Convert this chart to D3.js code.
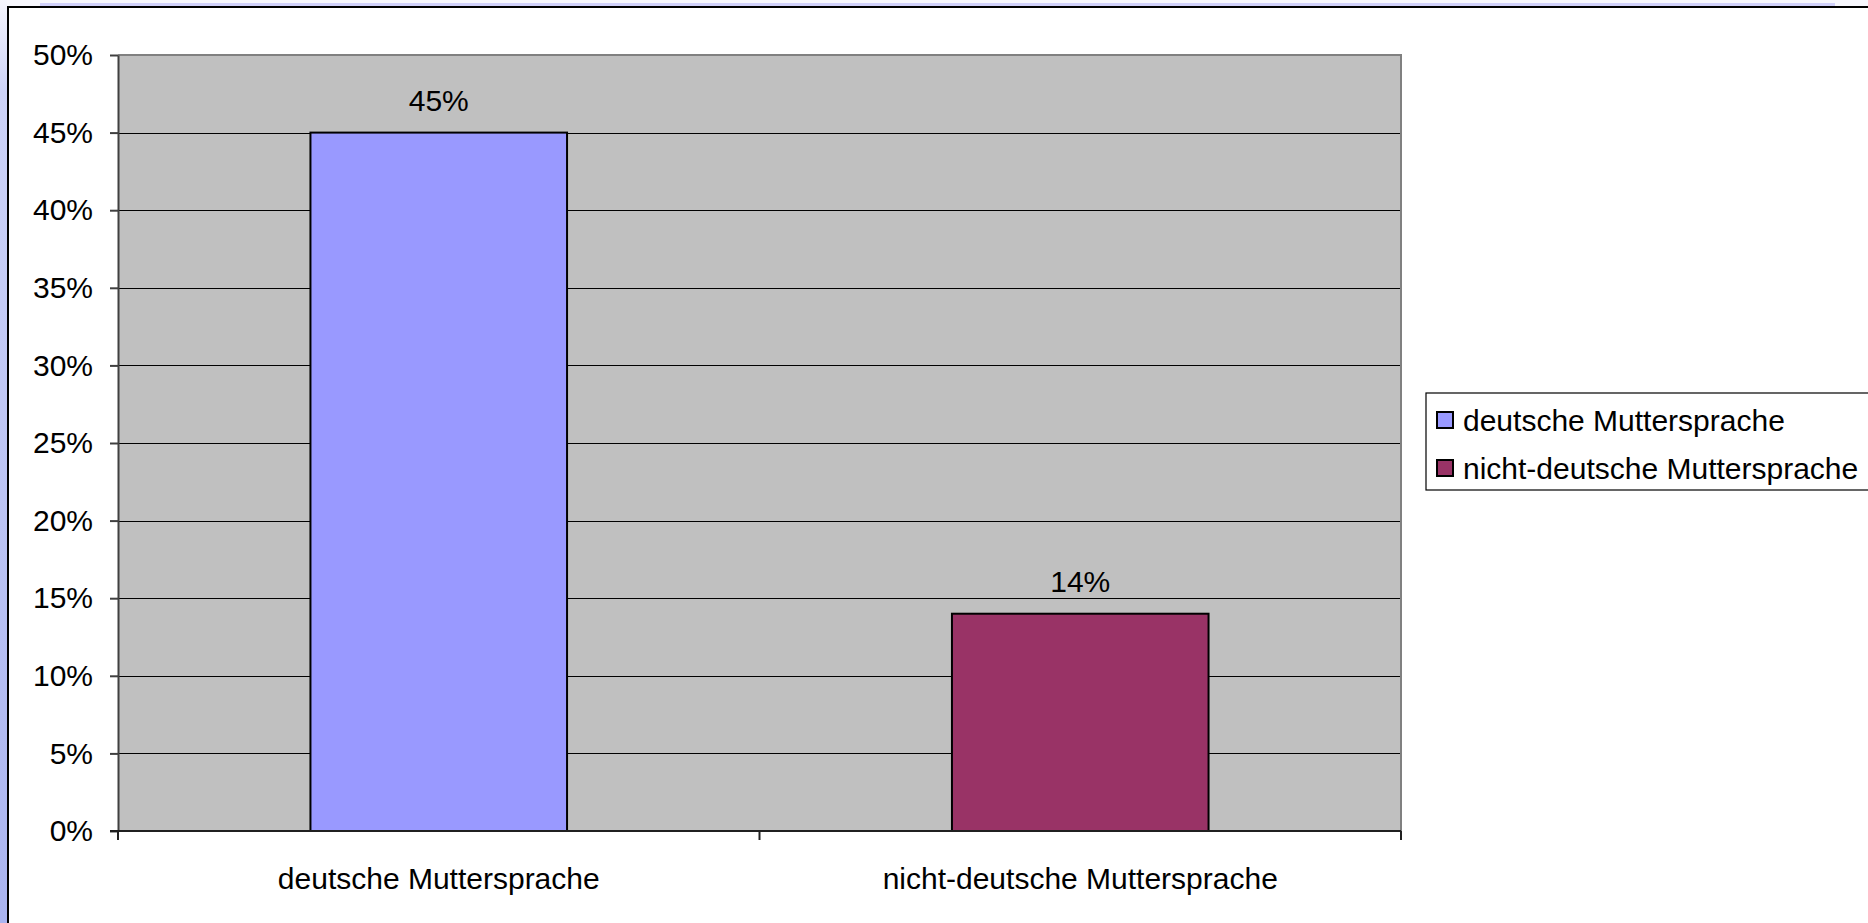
<!DOCTYPE html>
<html><head><meta charset="utf-8">
<script src="https://cdn.jsdelivr.net/npm/d3@7"></script>
<style>
html,body{margin:0;padding:0;background:#f7f7fd;overflow:hidden;}
svg{display:block;font-family:"Liberation Sans",Arial,sans-serif;}
</style></head>
<body>
<svg id="chart" width="1868" height="923"></svg>
<script>
const categories = ["deutsche Muttersprache", "nicht-deutsche Muttersprache"];
const values = [0.45, 0.14];
const valueLabels = ["45%", "14%"];
const colors = ["#9999ff", "#993366"];
const yTicks = [0, 0.05, 0.1, 0.15, 0.2, 0.25, 0.3, 0.35, 0.4, 0.45, 0.5];
const FS = 30;

const svg = d3.select("#chart");
const defs = svg.append("defs");
const grad = defs.append("linearGradient").attr("id","lg").attr("x1",0).attr("y1",0).attr("x2",0).attr("y2",1);
grad.append("stop").attr("offset","0%").attr("stop-color","#f5f5fd");
grad.append("stop").attr("offset","10%").attr("stop-color","#cdd3f8");
grad.append("stop").attr("offset","100%").attr("stop-color","#aab4f0");

// decorative slide strips
svg.append("rect").attr("x",0).attr("y",0).attr("width",7).attr("height",923).attr("fill","url(#lg)");
svg.append("rect").attr("x",40).attr("y",3).attr("width",1795).attr("height",3).attr("fill","#d0d0fa");

// chart area
svg.append("rect").attr("x",8).attr("y",7).attr("width",1880).attr("height",930)
  .attr("fill","#ffffff").attr("stroke","#000").attr("stroke-width",2);

const m = {left:118, top:55, right:1401, bottom:831};
const x = d3.scaleBand().domain(categories).range([m.left, m.right]).padding(0);
const y = d3.scaleLinear().domain([0, 0.5]).range([m.bottom, m.top]);

const g = svg.append("g");
g.append("rect").attr("x",m.left).attr("y",m.top).attr("width",m.right-m.left).attr("height",m.bottom-m.top).attr("fill","#c0c0c0");

// gridlines
g.selectAll("line.grid").data(yTicks.filter(d=>d>0 && d<0.5)).enter().append("line")
  .attr("x1",m.left).attr("x2",m.right).attr("y1",d=>Math.round(y(d))+0.5).attr("y2",d=>Math.round(y(d))+0.5)
  .attr("stroke","#000").attr("stroke-width",1.2);
// top & right border (gray)
g.append("line").attr("x1",m.left).attr("x2",m.right+1).attr("y1",m.top).attr("y2",m.top).attr("stroke","#808080").attr("stroke-width",2);
g.append("line").attr("x1",m.right).attr("x2",m.right).attr("y1",m.top).attr("y2",m.bottom).attr("stroke","#808080").attr("stroke-width",2);

// bars
const bw = x.bandwidth()*0.4;
g.selectAll("rect.bar").data(categories).enter().append("rect")
  .attr("x",(d)=>x(d)+x.bandwidth()/2-bw/2)
  .attr("y",(d,i)=>y(values[i]))
  .attr("width",bw)
  .attr("height",(d,i)=>y(0)-y(values[i]))
  .attr("fill",(d,i)=>colors[i]).attr("stroke","#000").attr("stroke-width",2);

// value labels
g.selectAll("text.val").data(categories).enter().append("text")
  .attr("x",d=>x(d)+x.bandwidth()/2).attr("y",(d,i)=>y(values[i])-32)
  .attr("text-anchor","middle").attr("dominant-baseline","central")
  .attr("font-size",FS).attr("fill","#000").text((d,i)=>valueLabels[i]);

// y axis
const yAxis = d3.axisLeft(y).tickValues(yTicks).tickFormat(d3.format(".0%")).tickSizeInner(8).tickSizeOuter(0).tickPadding(17);
const ya = svg.append("g").attr("transform",`translate(${m.left},0)`).call(yAxis);
ya.select(".domain").attr("stroke","#404040").attr("stroke-width",2);
ya.selectAll(".tick line").attr("stroke","#404040").attr("stroke-width",2);
ya.selectAll(".tick text").attr("font-size",FS).attr("font-family","Liberation Sans, Arial, sans-serif").attr("fill","#000");

// x axis
const xBound = d3.scaleLinear().domain([0,2]).range([m.left,m.right]);
const xa = svg.append("g").attr("transform",`translate(0,${m.bottom})`);
xa.append("line").attr("x1",m.left-8).attr("x2",m.right).attr("y1",0).attr("y2",0).attr("stroke","#202020").attr("stroke-width",2);
xa.selectAll("line.tk").data([0,1,2]).enter().append("line")
  .attr("x1",d=>xBound(d)).attr("x2",d=>xBound(d)).attr("y1",0).attr("y2",9).attr("stroke","#202020").attr("stroke-width",2);
xa.selectAll("text").data(categories).enter().append("text")
  .attr("x",d=>x(d)+x.bandwidth()/2).attr("y",47).attr("text-anchor","middle").attr("dominant-baseline","central")
  .attr("font-size",FS).attr("fill","#000").text(d=>d);

// legend
const lg = svg.append("g");
lg.append("rect").attr("x",1426).attr("y",393).attr("width",500).attr("height",97).attr("fill","#fff").attr("stroke","#000").attr("stroke-width",1.2);
const rows = lg.selectAll("g.row").data(categories).enter().append("g").attr("transform",(d,i)=>`translate(1437,${420+i*48})`);
rows.append("rect").attr("x",0).attr("y",-8).attr("width",16).attr("height",16).attr("fill",(d,i)=>colors[i]).attr("stroke","#000").attr("stroke-width",2);
rows.append("text").attr("x",26).attr("y",0).attr("dominant-baseline","central").attr("font-size",FS).attr("fill","#000").text(d=>d);
</script>
</body></html>
